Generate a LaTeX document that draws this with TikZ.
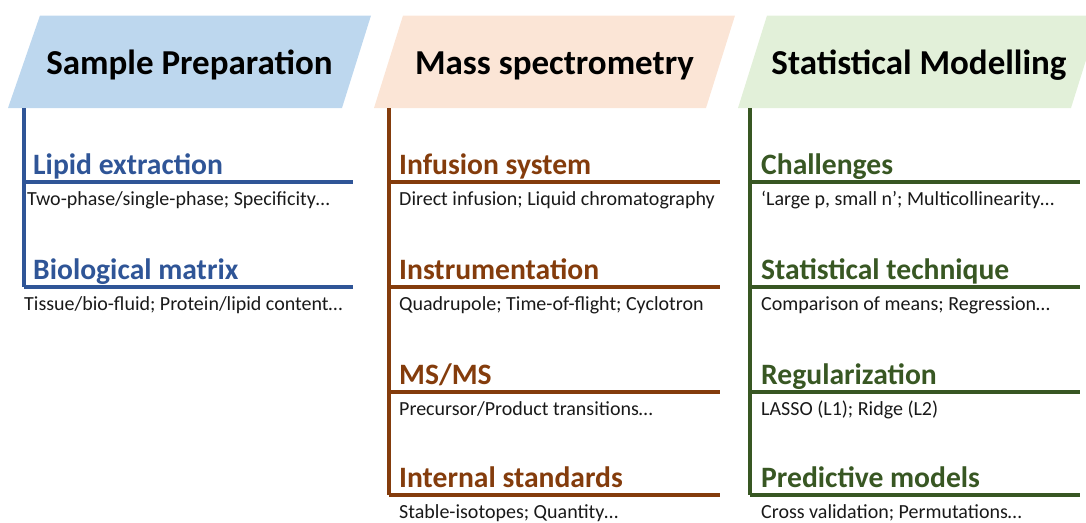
\documentclass[tikz,border=0pt]{standalone}
\usepackage{fontspec}
\setmainfont{Carlito}
\definecolor{bluefill}{HTML}{BDD7EE}
\definecolor{peachfill}{HTML}{FBE5D6}
\definecolor{greenfill}{HTML}{E2F0D9}
\definecolor{blueline}{HTML}{2F5597}
\definecolor{brownline}{HTML}{843C0C}
\definecolor{greenline}{HTML}{385723}
\tikzset{
  title/.style={font=\fontsize{35}{42}\selectfont\bfseries, text=black, inner sep=0pt, anchor=base},
  head/.style={font=\fontsize{29.6}{34}\selectfont\bfseries, inner sep=0pt, anchor=base west},
  body/.style={font=\fontsize{20}{24}\selectfont, text=black!90, inner sep=0pt, anchor=base west},
  rule/.style={line width=4pt},
}
\begin{document}
\begin{tikzpicture}[x=1pt,y=-1pt]
\useasboundingbox (0,0) rectangle (1086,522);
\clip (0,0) rectangle (1086,522);
% header parallelograms
\fill[bluefill] (8,108) -- (342,108) -- (371,15.5) -- (40,15.5) -- cycle;
\fill[peachfill] (374,108) -- (706,108) -- (735,15.5) -- (403,15.5) -- cycle;
\fill[greenfill] (738,108) -- (1071,108) -- (1100,15.5) -- (767,15.5) -- cycle;
\node[title] (t1) at (189.5,74) {Sample Preparation};
\node[title] (t2) at (554.5,74) {Mass spectrometry};
\node[title] (t3) at (919,74) {Statistical Modelling};
% column 1
\coordinate (c1top) at (24,108);
\coordinate (c1r1) at (24,182); \coordinate (c1r1e) at (353,182);
\coordinate (c1r2) at (24,287); \coordinate (c1r2e) at (353,287);
\draw[rule, blueline] (c1top) -- (c1r2);
\draw[rule, blueline] (c1r1) -- (c1r1e);
\draw[rule, blueline] (c1r2) -- (c1r2e);
\node[head, text=blueline] (h11) at (33,174) {Lipid extraction};
\node[body] (b11) at (27,205) {Two-phase/single-phase; Specificity…};
\node[head, text=blueline] (h12) at (33,279) {Biological matrix};
\node[body] (b12) at (24,310) {Tissue/bio-fluid; Protein/lipid content…};
% column 2
\coordinate (c2top) at (389,108);
\coordinate (c2r1) at (389,182); \coordinate (c2r1e) at (720,182);
\coordinate (c2r2) at (389,287); \coordinate (c2r2e) at (720,287);
\coordinate (c2r3) at (389,392); \coordinate (c2r3e) at (720,392);
\coordinate (c2r4) at (389,495); \coordinate (c2r4e) at (720,495);
\draw[rule, brownline] (c2top) -- (c2r4);
\foreach \r in {1,2,3,4} \draw[rule, brownline] (c2r\r) -- (c2r\r e);
\node[head, text=brownline] (h21) at (399,174) {Infusion system};
\node[body] (b21) at (399,205) {Direct infusion; Liquid chromatography};
\node[head, text=brownline] (h22) at (399,279) {Instrumentation};
\node[body] (b22) at (399,310) {Quadrupole; Time-of-flight; Cyclotron};
\node[head, text=brownline] (h23) at (399,384) {MS/MS};
\node[body] (b23) at (399,415) {Precursor/Product transitions…};
\node[head, text=brownline] (h24) at (399,487) {Internal standards};
\node[body] (b24) at (399,518) {Stable-isotopes; Quantity…};
% column 3
\coordinate (c3top) at (750,108);
\coordinate (c3r1) at (750,182); \coordinate (c3r1e) at (1080,182);
\coordinate (c3r2) at (750,287); \coordinate (c3r2e) at (1080,287);
\coordinate (c3r3) at (750,392); \coordinate (c3r3e) at (1080,392);
\coordinate (c3r4) at (750,495); \coordinate (c3r4e) at (1080,495);
\draw[rule, greenline] (c3top) -- (c3r4);
\foreach \r in {1,2,3,4} \draw[rule, greenline] (c3r\r) -- (c3r\r e);
\node[head, text=greenline] (h31) at (761,174) {Challenges};
\node[body] (b31) at (761,205) {‘Large p, small n’; Multicollinearity…};
\node[head, text=greenline] (h32) at (761,279) {Statistical technique};
\node[body] (b32) at (761,310) {Comparison of means; Regression…};
\node[head, text=greenline] (h33) at (761,384) {Regularization};
\node[body] (b33) at (761,415) {LASSO (L1); Ridge (L2)};
\node[head, text=greenline] (h34) at (761,487) {Predictive models};
\node[body] (b34) at (761,518) {Cross validation; Permutations…};
\end{tikzpicture}
\end{document}
